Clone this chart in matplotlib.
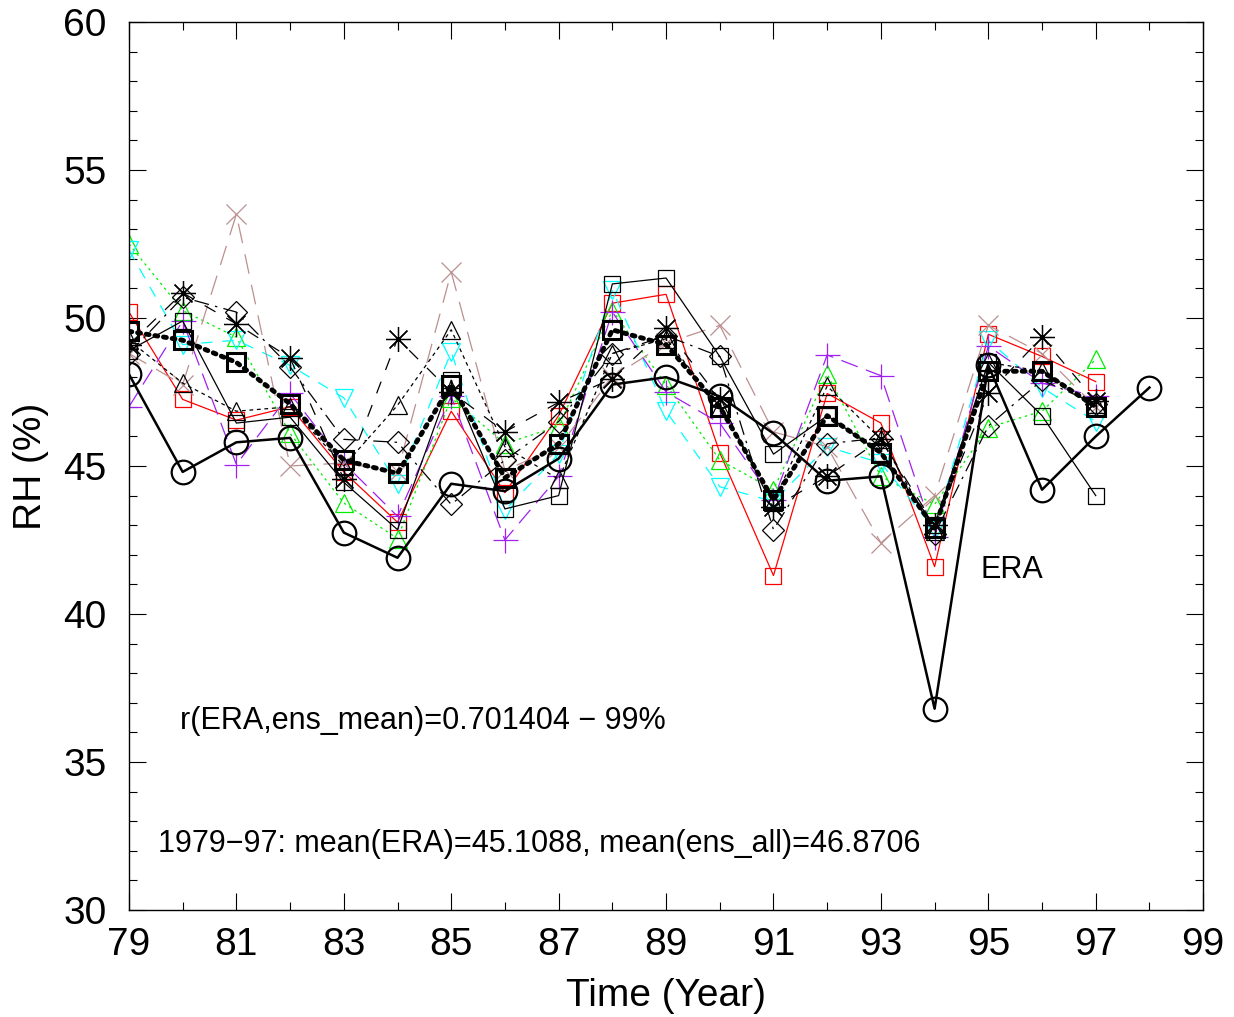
import numpy as np
import matplotlib
matplotlib.use("Agg")
import matplotlib.pyplot as plt
from matplotlib.ticker import MultipleLocator

plt.rcParams['font.family'] = ['Liberation Sans', 'DejaVu Sans']

years = np.arange(79, 98)          # 79..97 for ensemble members
era_years = np.arange(79, 99)      # ERA runs to 98

era = [48.1, 44.8, 45.8, 45.95, 42.75, 41.9, 44.4, 44.15, 45.25, 47.75,
       48.0, 47.35, 46.1, 44.5, 44.65, 36.8, 48.4, 44.2, 46.0, 47.65]
ens_mean = [49.55, 49.25, 48.5, 47.1, 45.2, 44.75, 47.75, 44.6, 45.75, 49.6,
            49.1, 47.0, 43.85, 46.7, 45.45, 42.9, 48.2, 48.2, 47.0]

# ensemble members
red_sq = [50.2, 47.25, 46.55, 47.0, 44.8, 43.1, 46.85, 44.1, 46.7, 50.5,
          50.8, 45.45, 41.3, 47.45, 46.45, 41.6, 49.45, 48.7, 47.85]
green_tri = [52.5, 50.25, 49.35, 46.1, 43.75, 42.55, 47.3, 45.75, 46.35, 50.25,
             47.75, 45.2, 44.2, 48.1, 44.65, 43.7, 46.3, 46.85, 48.6]
cyan_tri = [52.3, 49.1, 49.25, 48.4, 47.3, 44.4, 48.85, 43.5, 45.4, 50.95,
            46.85, 44.3, 43.8, 45.65, 45.1, 42.85, 49.25, 47.65, 46.5]
purple_plus = [47.0, 49.9, 45.05, 47.45, 45.1, 43.3, 47.35, 42.5, 44.65, 50.2,
               47.5, 46.45, 43.85, 48.75, 48.05, 42.6, 49.05, 47.8, 47.35]
brown_x = [48.8, 47.75, 53.5, 45.0, 45.1, 44.8, 51.55, 44.85, 45.65, 48.0,
           49.15, 49.75, 46.15, 45.65, 42.4, 44.0, 49.75, 48.8, 47.0]
black_sq = [48.9, 49.9, 46.45, 46.65, 44.45, 42.85, 47.9, 43.55, 44.0, 51.15,
            51.35, 48.7, 45.4, 46.7, 45.45, 43.0, 48.5, 46.7, 44.0]
black_star = [49.1, 50.85, 49.8, 48.65, 44.55, 49.3, 47.5, 46.15, 47.15, 47.95,
              49.65, 47.25, 43.6, 44.65, 45.9, 43.0, 47.45, 49.35, 47.2]
black_tri = [49.25, 47.8, 46.85, 47.0, 45.0, 47.05, 49.6, 45.65, 44.55, 48.8,
             49.3, 47.0, 43.8, 47.7, 45.9, 42.8, 48.5, 48.2, 47.1]
black_dia = [48.8, 50.7, 50.2, 48.35, 45.9, 45.8, 43.7, 45.2, 46.5, 48.8,
             49.4, 48.7, 42.85, 45.75, 45.95, 42.7, 46.35, 47.9, 47.1]

fig = plt.figure(figsize=(12.34, 10.17), dpi=100)
ax = fig.add_axes([0.1045, 0.1052, 0.8705, 0.8732])

thin = dict(lw=0.9, mfc='none', mew=0.9)
ax.plot(years, red_sq, color='red', ls='-', marker='s', ms=12, **thin)
ax.plot(years, green_tri, color='#00ee00', ls=(0, (2, 3)), marker='^', ms=13, **thin)
ax.plot(years, cyan_tri, color='cyan', ls=(0, (9, 8)), marker='v', ms=13, **thin)
ax.plot(years, purple_plus, color='#a020f0', ls=(0, (14, 7)), marker='+', ms=18, **thin)
ax.plot(years, brown_x, color='#bc8f8f', ls=(0, (16, 9)), marker='x', ms=14, **thin)
ax.plot(years, black_sq, color='black', ls='-', marker='s', ms=12, **thin)
ax.plot(years, black_star, color='black', ls=(0, (10, 10)), marker=(8, 2, 0), ms=18, **thin)
ax.plot(years, black_tri, color='black', ls=(0, (3, 3)), marker='^', ms=13, **thin)
ax.plot(years, black_dia, color='black', ls=(0, (12, 5, 2, 5)), marker='D', ms=11, **thin)

ax.plot(years, ens_mean, color='black', ls=(0, (0.6, 1.2)), lw=3.5,
        dash_capstyle='round', marker='s', ms=13, mfc='none', mew=2.2)
ax.plot(era_years, era, color='black', ls='-', lw=1.8, marker='o', ms=17,
        mfc='none', mew=1.6)

ax.text(94.85, 41.2, 'ERA', fontsize=22)
ax.text(79.95, 36.1, 'r(ERA,ens_mean)=0.701404 \u2212 99%', fontsize=22)
ax.text(79.55, 31.95, '1979\u221297: mean(ERA)=45.1088, mean(ens_all)=46.8706', fontsize=22)

ax.set_xlim(79, 99)
ax.set_ylim(30, 60)
ax.set_xticks(np.arange(79, 100, 2))
ax.xaxis.set_minor_locator(MultipleLocator(1))
ax.yaxis.set_major_locator(MultipleLocator(5))
ax.yaxis.set_minor_locator(MultipleLocator(1))
ax.tick_params(which='both', direction='in', top=True, right=True, labelsize=28, width=0.8)
ax.tick_params(which='major', length=12)
ax.tick_params(which='minor', length=6)
ax.tick_params(axis='y', which='major', pad=16)
ax.tick_params(axis='x', which='major', pad=12)
for s in ax.spines.values():
    s.set_linewidth(1.0)

ax.set_xlabel('Time (Year)', fontsize=28, labelpad=11)
ax.set_ylabel('RH (%)', fontsize=28, labelpad=10)

fig.savefig('out.png', dpi=100)
